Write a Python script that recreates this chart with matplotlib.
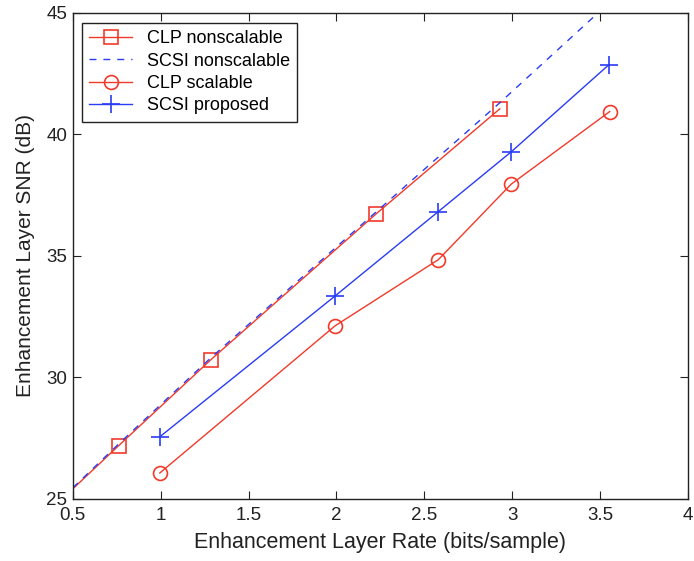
import matplotlib
matplotlib.use("Agg")
import matplotlib.pyplot as plt

plt.rcParams["font.family"] = ["Liberation Sans", "DejaVu Sans"]

# --- data ---
clp_ns_x = [0.5, 0.76, 1.285, 2.225, 2.93]
clp_ns_y = [25.41, 27.18, 30.72, 36.72, 41.05]

scsi_ns_x = [0.5, 0.76, 1.285, 2.225, 2.93, 3.55]
scsi_ns_y = [25.45, 27.25, 30.8, 36.8, 41.3, 45.4]

clp_sc_x = [0.995, 1.993, 2.58, 2.995, 3.556]
clp_sc_y = [26.06, 32.12, 34.84, 37.95, 40.94]

scsi_pr_x = [0.995, 1.993, 2.58, 2.995, 3.55]
scsi_pr_y = [27.55, 33.35, 36.82, 39.28, 42.86]

x_ticks = [0.5, 1, 1.5, 2, 2.5, 3, 3.5, 4]
x_tick_labels = ["0.5", "1", "1.5", "2", "2.5", "3", "3.5", "4"]
y_ticks = [25, 30, 35, 40, 45]

RED = "#f23a2a"
BLUE = "#2a3cf5"
INK = "#222222"

fig = plt.figure(figsize=(6.94, 5.61), dpi=100)
ax = fig.add_axes([0.105, 0.111, 0.886, 0.866])

ax.plot(clp_ns_x, clp_ns_y, color=RED, lw=1.0, marker="s", ms=10,
        mfc="none", mec=RED, mew=1.2, markevery=slice(1, None),
        label="CLP nonscalable")
ax.plot(scsi_ns_x, scsi_ns_y, color=BLUE, lw=1.0, ls=(0, (5, 5)),
        label="SCSI nonscalable")
ax.plot(clp_sc_x, clp_sc_y, color=RED, lw=1.0, marker="o", ms=10,
        mfc="none", mec=RED, mew=1.2, label="CLP scalable")
ax.plot(scsi_pr_x, scsi_pr_y, color=BLUE, lw=1.0, marker="+", ms=13,
        mew=1.2, label="SCSI proposed")

ax.set_xlim(0.5, 4)
ax.set_ylim(25, 45)
ax.set_xticks(x_ticks)
ax.set_xticklabels(x_tick_labels)
ax.set_yticks(y_ticks)
ax.tick_params(direction="in", top=True, right=True, length=6,
               labelsize=13.5, colors=INK)
ax.tick_params(axis="y", pad=4)
ax.tick_params(axis="x", pad=6)
for s in ax.spines.values():
    s.set_color(INK)
    s.set_linewidth(1.0)

ax.set_xlabel("Enhancement Layer Rate (bits/sample)", fontsize=15.5,
              color=INK, labelpad=6)
ax.set_ylabel("Enhancement Layer SNR (dB)", fontsize=15,
              color=INK, labelpad=8)

leg = ax.legend(loc="upper left", bbox_to_anchor=(0.0, 0.998),
                fontsize=13, fancybox=False, framealpha=1,
                edgecolor=INK, handlelength=2.4, borderpad=0.4,
                labelspacing=0.3, handletextpad=0.8)
leg.get_frame().set_linewidth(1.0)

fig.savefig("out.png", dpi=100)
